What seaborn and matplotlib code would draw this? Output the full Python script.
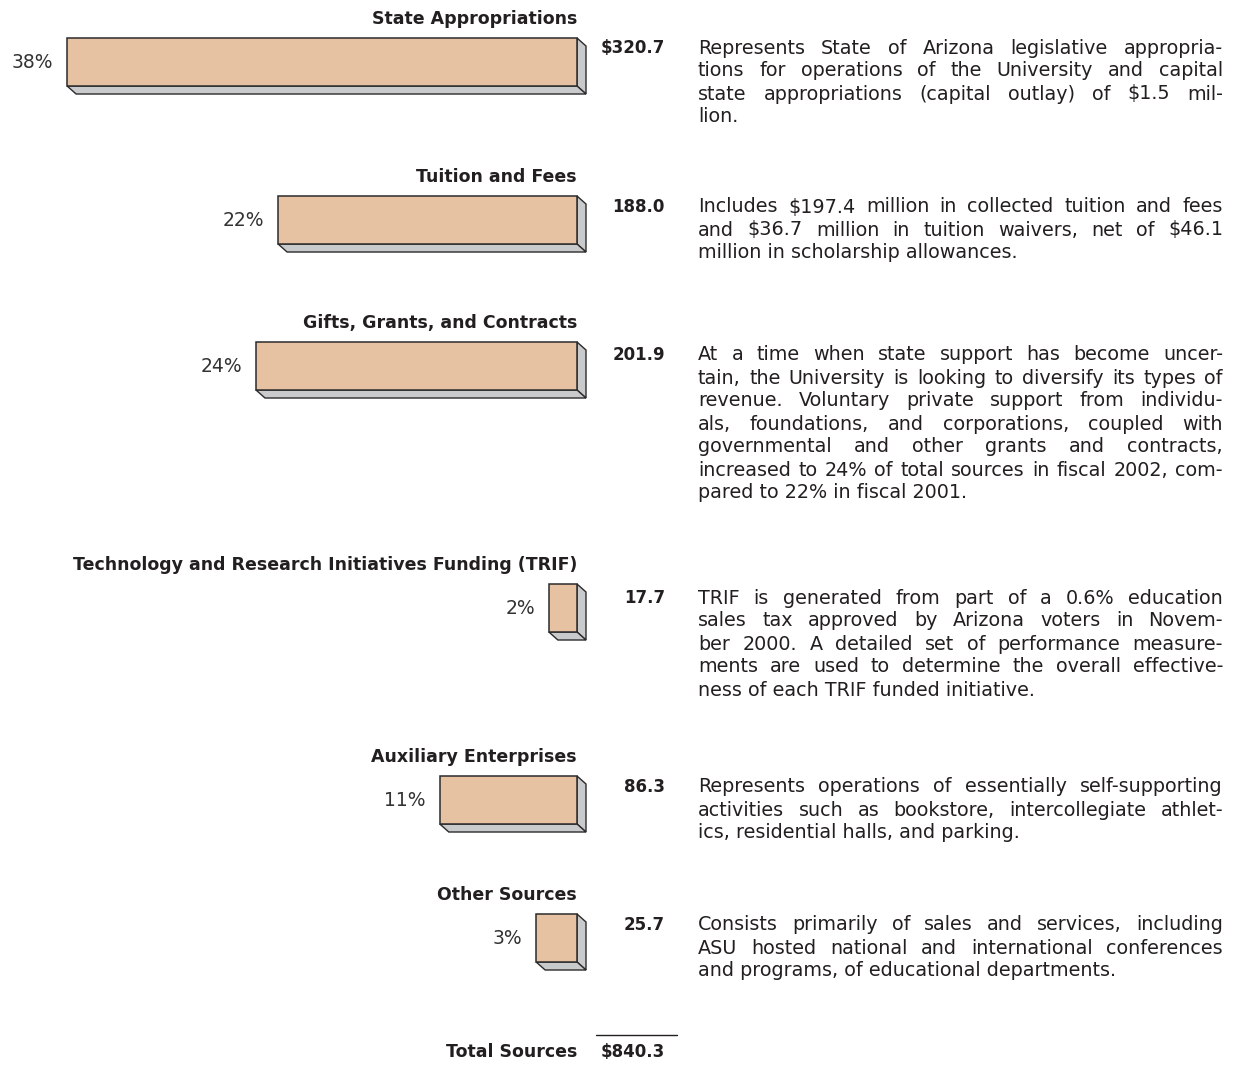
import matplotlib
matplotlib.use("Agg")
import matplotlib.pyplot as plt
from matplotlib.patches import Polygon
from matplotlib.transforms import Affine2D
import seaborn as sns

# ---------------- data
sources = ["State Appropriations", "Tuition and Fees", "Gifts, Grants, and Contracts",
           "Technology and Research Initiatives Funding (TRIF)", "Auxiliary Enterprises",
           "Other Sources"]
amounts = [320.7, 188.0, 201.9, 17.7, 86.3, 25.7]
amount_labels = ["$320.7", "188.0", "201.9", "17.7", "86.3", "25.7"]
shares = ["38%", "22%", "24%", "2%", "11%", "3%"]
total_label = "$840.3"

notes = [
    ["Represents State of Arizona legislative appropria-",
     "tions for operations of the University and capital",
     "state appropriations (capital outlay) of $1.5 mil-",
     "lion."],
    ["Includes $197.4 million in collected tuition and fees",
     "and $36.7 million in tuition waivers, net of $46.1",
     "million in scholarship allowances."],
    ["At a time when state support has become uncer-",
     "tain, the University is looking to diversify its types of",
     "revenue.  Voluntary private support from individu-",
     "als, foundations, and corporations, coupled with",
     "governmental and other grants and contracts,",
     "increased to 24% of total sources in fiscal 2002, com-",
     "pared to 22% in fiscal 2001."],
    ["TRIF is generated from part of a 0.6% education",
     "sales tax approved by Arizona voters in Novem-",
     "ber 2000.  A detailed set of performance measure-",
     "ments are used to determine the overall effective-",
     "ness of each TRIF funded initiative."],
    ["Represents operations of essentially self-supporting",
     "activities such as bookstore, intercollegiate athlet-",
     "ics, residential halls, and parking."],
    ["Consists primarily of sales and services, including",
     "ASU hosted national and international conferences",
     "and programs, of educational departments."],
]

# ---------------- layout (pixels, from top)
W, H = 1239, 1070
bar_y = [62, 220, 366, 608, 800, 938]      # bar centres
note_y = [48, 207, 355, 598, 787, 925]     # first text line
bar_h = 48
px_per_unit = 1.59
bar_right = 577
depth_x, depth_y = 9, 8
line_step = 23
note_x0, note_x1 = 698, 1223
value_x = 665

face = "#e6c2a3"
side = "#c9cacc"
edge = "#2b2b2b"
ink = "#231f20"

fs_head = 12.5
fs_val = 12
fs_pct = 13.5
fs_note = 13.8

sns.set_theme(style="white")
plt.rcParams["font.family"] = ["DejaVu Sans"]

fig = plt.figure(figsize=(W / 100, H / 100), dpi=100)
ax = fig.add_axes([0, 0, 1, 1])
tr = Affine2D().scale(1, -1).translate(0, H)  # pixel coords from top-left

# bars in value units, growing leftwards from bar_right
sns.barplot(x=amounts, y=bar_y, orient="h", native_scale=True,
            width=bar_h / min(b - a for a, b in zip(bar_y[:-1], bar_y[1:])),
            color=face, saturation=1, edgecolor=edge, linewidth=1.1, zorder=3, ax=ax)
ax.set_xlim(bar_right / px_per_unit, (bar_right - W) / px_per_unit)
ax.set_ylim(H, 0)
ax.axis("off")

dxu = depth_x / px_per_unit
for v, yc in zip(amounts, bar_y):
    top, bot = yc - bar_h / 2, yc + bar_h / 2
    ax.add_patch(Polygon([(0, top), (-dxu, top + depth_y), (-dxu, bot + depth_y), (0, bot)],
                         closed=True, fc=side, ec=edge, lw=1.0, zorder=2))
    ax.add_patch(Polygon([(v, bot), (0, bot), (-dxu, bot + depth_y), (v - dxu, bot + depth_y)],
                         closed=True, fc=side, ec=edge, lw=1.0, zorder=2))

for name, v, yc, s, lab, ny in zip(sources, amounts, bar_y, shares, amount_labels, note_y):
    fig.text(bar_right, yc - bar_h / 2 - 19, name, transform=tr, ha="right", va="center",
             fontsize=fs_head, fontweight="bold", color=ink)
    ax.annotate(s, (v, yc), xytext=(-14, 0), textcoords="offset pixels",
                ha="right", va="center", fontsize=fs_pct, color="#333333")
    fig.text(value_x, ny, lab, transform=tr, ha="right", va="center",
             fontsize=fs_val, fontweight="bold", color=ink)

# justified paragraphs
renderer = fig.canvas.get_renderer()
for lines, y0 in zip(notes, note_y):
    for i, line in enumerate(lines):
        y = y0 + i * line_step
        words = line.split()
        if i == len(lines) - 1:
            fig.text(note_x0, y, line, transform=tr, ha="left", va="center",
                     fontsize=fs_note, color=ink)
            continue
        arts = [fig.text(0, y, w, transform=tr, ha="left", va="center",
                         fontsize=fs_note, color=ink) for w in words]
        widths = [a.get_window_extent(renderer).width for a in arts]
        gap = (note_x1 - note_x0 - sum(widths)) / (len(words) - 1)
        x = note_x0
        for a, w in zip(arts, widths):
            a.set_x(x)
            x += w + gap

# total
fig.text(bar_right, 1052, "Total Sources", transform=tr, ha="right", va="center",
         fontsize=fs_head, fontweight="bold", color=ink)
fig.text(value_x, 1052, total_label, transform=tr, ha="right", va="center",
         fontsize=fs_val, fontweight="bold", color=ink)
fig.add_artist(plt.Line2D([596, 677], [1035, 1035], transform=tr, color=ink, lw=1))

fig.savefig("out.png", dpi=100, facecolor="white")
